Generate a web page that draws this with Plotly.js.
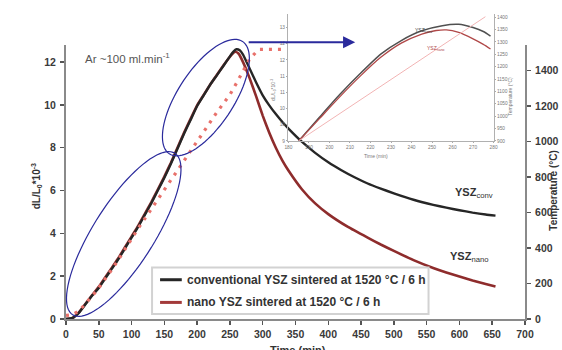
<!DOCTYPE html>
<html>
<head>
<meta charset="utf-8">
<script src="https://cdn.plot.ly/plotly-3.0.1.min.js"></script>
<style>html,body{margin:0;padding:0;background:#fff;}#chart{width:562px;height:350px;}</style>
</head>
<body>
<div id="chart"></div>
<script>
// ---------- main chart data ----------
const timeConv = [0,10,20,30,40,50,60,70,80,90,100,110,120,130,140,150,160,170,180,190,200,210,220,230,240,250,255,260,265,270,280,290,300,310,320,330,340,360,380,400,420,440,460,480,500,530,560,580,600,620,640,655];
const dlConv   = [0,0.05,0.3,0.7,1.1,1.45,1.9,2.35,2.8,3.3,3.8,4.3,4.85,5.4,6.0,6.6,7.25,7.95,8.65,9.3,9.95,10.45,10.95,11.38,11.82,12.27,12.48,12.6,12.55,12.35,11.7,11.05,10.45,9.98,9.57,9.2,8.87,8.27,7.76,7.32,6.95,6.62,6.33,6.09,5.87,5.57,5.33,5.2,5.08,4.97,4.88,4.83];

const timeNano = [0,10,20,30,40,50,60,70,80,90,100,110,120,130,140,150,160,170,180,190,200,210,220,230,240,250,255,258,263,270,280,290,300,310,320,330,340,360,380,400,430,460,480,500,530,560,580,600,620,640,655];
const dlNano   = [0,0.05,0.32,0.72,1.12,1.5,1.95,2.4,2.85,3.35,3.85,4.35,4.9,5.45,6.05,6.65,7.3,8.0,8.7,9.35,9.98,10.47,10.95,11.4,11.84,12.25,12.42,12.48,12.4,12.0,11.25,10.4,9.5,8.7,8.0,7.4,6.9,6.05,5.4,4.9,4.3,3.8,3.48,3.18,2.75,2.38,2.17,1.98,1.8,1.64,1.52];

const timeTemp = [0,10,20,30,40,50,60,70,80,90,100,110,120,130,140,150,160,170,180,190,200,210,220,230,240,250,260,270,280,290,295,300,335];
const tempC    = [20,25,45,85,130,175,225,280,335,395,455,510,565,620,675,730,785,840,895,950,1000,1055,1110,1165,1215,1265,1330,1400,1465,1505,1520,1520,1520];

const xTicks = [0,50,100,150,200,250,300,350,400,450,500,550,600,650,700];
const leftTicks = [0,2,4,6,8,10,12];
const rightTicks = [0,200,400,600,800,1000,1200,1400];

const legendNames = ['conventional YSZ sintered at 1520 °C / 6 h', 'nano YSZ sintered at 1520 °C / 6 h'];

// ---------- inset data ----------
const insetTimeConv = [185,195,205,215,225,235,245,255,263,270,275,278.5];
const insetDlConv   = [9.0,9.72,10.43,11.08,11.68,12.1,12.4,12.56,12.6,12.5,12.38,12.24];
const insetTimeNano = [185,195,205,215,225,235,245,252,257,263,270,275,278.5];
const insetDlNano   = [9.0,9.68,10.36,11.0,11.58,12.02,12.3,12.41,12.43,12.35,12.15,11.98,11.84];
const insetTimeTemp = [185,276];
const insetTemp     = [900,1402];
const insetXTicks = [180,190,200,210,220,230,240,250,260,270,280];
const insetLeftTicks = [9,9.5,10,10.5,11,11.5,12,12.5];
const insetLeftText  = ['9','10','10','11','11','12','12','13'];
const insetRightTicks = [900,950,1000,1050,1100,1150,1200,1250,1300,1350,1400];

// ---------- geometry helpers (pixel -> paper) ----------
const L = 66, W = 458.7, B = 319.3, H = 309.3;
const px2x = p => (p - L) / W;
const py2y = p => (B - p) / H;

function ellipsePath(cx, cy, a, b, deg) {
  const th = deg * Math.PI / 180, n = 90;
  let d = '';
  for (let k = 0; k <= n; k++) {
    const f = 2 * Math.PI * k / n;
    const ex = a * Math.cos(f), ey = b * Math.sin(f);
    const px = cx + ex * Math.cos(th) + ey * Math.sin(th);
    const py = cy - ex * Math.sin(th) + ey * Math.cos(th);
    d += (k === 0 ? 'M' : 'L') + px2x(px).toFixed(5) + ',' + py2y(py).toFixed(5);
  }
  return d + 'Z';
}

const FONT = 'Liberation Sans, Arial, sans-serif';
const tickFont = {family: FONT, size: 10.5, color: '#3a3a3a', weight: 'bold'};
const insetFont = {family: FONT, size: 4.8, color: '#777'};

const traces = [
  {x: timeTemp, y: tempC, xaxis: 'x', yaxis: 'y2', mode: 'lines', showlegend: false,
   line: {color: '#e8716b', width: 3.2, dash: '3px,6px'}, name: 'Temperature'},
  {x: timeNano, y: dlNano, xaxis: 'x', yaxis: 'y', mode: 'lines', showlegend: false,
   line: {color: '#8e2c2c', width: 2.6, shape: 'spline', smoothing: 0.4}, name: legendNames[1]},
  {x: timeConv, y: dlConv, xaxis: 'x', yaxis: 'y', mode: 'lines', showlegend: false,
   line: {color: '#262626', width: 2.4, shape: 'spline', smoothing: 0.4}, name: legendNames[0]},
  // inset
  {x: insetTimeTemp, y: insetTemp, xaxis: 'x2', yaxis: 'y4', mode: 'lines', showlegend: false,
   line: {color: '#f2b4b4', width: 1}},
  {x: insetTimeConv, y: insetDlConv, xaxis: 'x2', yaxis: 'y3', mode: 'lines', showlegend: false,
   line: {color: '#505050', width: 1.5, shape: 'spline', smoothing: 0.6}},
  {x: insetTimeNano, y: insetDlNano, xaxis: 'x2', yaxis: 'y3', mode: 'lines', showlegend: false,
   line: {color: '#b04848', width: 1.3, shape: 'spline', smoothing: 0.6}}
];

const axisLine = {showline: true, linecolor: '#8a8a8a', linewidth: 2, showgrid: false, zeroline: false,
  ticks: 'outside', ticklen: 4, tickwidth: 1.5, tickcolor: '#555', tickfont: tickFont};

const layout = {
  width: 562, height: 350,
  margin: {l: L, r: 562 - L - W, t: B - H, b: 350 - B, pad: 0},
  paper_bgcolor: '#fff', plot_bgcolor: 'rgba(0,0,0,0)',
  showlegend: false,
  xaxis: Object.assign({}, axisLine, {domain: [0, 1], anchor: 'y', range: [0, 700], tickvals: xTicks}),
  yaxis: Object.assign({}, axisLine, {domain: [0, (B - 45) / H], anchor: 'x', range: [0, 12.8], tickvals: leftTicks, ticklabelstandoff: 2}),
  yaxis2: Object.assign({}, axisLine, {overlaying: 'y', side: 'right', anchor: 'x', range: [0, 1545], tickvals: rightTicks, ticklabelstandoff: 2}),
  xaxis2: {domain: [px2x(288.3), px2x(493.3)], anchor: 'y3', range: [180, 280], tickvals: insetXTicks,
    showline: true, linecolor: '#b0b0b0', linewidth: 1, showgrid: false, zeroline: false,
    ticks: 'outside', ticklen: 1.5, tickcolor: '#aaa', tickfont: insetFont},
  yaxis3: {domain: [py2y(141), py2y(14)], anchor: 'x2', range: [9, 12.92], tickvals: insetLeftTicks, ticktext: insetLeftText,
    showline: true, linecolor: '#b0b0b0', linewidth: 1, showgrid: false, zeroline: false,
    ticks: 'outside', ticklen: 1.5, tickcolor: '#aaa', tickfont: insetFont},
  yaxis4: {overlaying: 'y3', side: 'right', anchor: 'x2', range: [900, 1413], tickvals: insetRightTicks,
    showline: true, linecolor: '#b0b0b0', linewidth: 1, showgrid: false, zeroline: false,
    ticks: 'outside', ticklen: 1.5, tickcolor: '#aaa', tickfont: insetFont},
  shapes: [
    {type: 'path', xref: 'paper', yref: 'paper', path: ellipsePath(123.7, 234.2, 95.6, 30.5, 57.7),
     line: {color: '#2a2a9c', width: 1.2}, fillcolor: 'rgba(0,0,0,0)', layer: 'above'},
    {type: 'path', xref: 'paper', yref: 'paper', path: ellipsePath(205.8, 97.7, 67.1, 28, 57),
     line: {color: '#2a2a9c', width: 1.2}, fillcolor: 'rgba(0,0,0,0)', layer: 'above'},
    // legend box and keys
    {type: 'rect', xref: 'paper', yref: 'paper', x0: px2x(152), x1: px2x(428.3), y0: py2y(314.3), y1: py2y(267.7),
     fillcolor: '#ffffff', line: {color: '#d2d2d2', width: 2}, layer: 'above'},
    {type: 'line', xref: 'paper', yref: 'paper', x0: px2x(160), x1: px2x(181.7), y0: py2y(280), y1: py2y(280),
     line: {color: '#262626', width: 3}, layer: 'above'},
    {type: 'line', xref: 'paper', yref: 'paper', x0: px2x(160), x1: px2x(181.7), y0: py2y(302.7), y1: py2y(302.7),
     line: {color: '#a33a3a', width: 3}, layer: 'above'}
  ],
  annotations: [
    {xref: 'paper', yref: 'paper', x: px2x(185), y: py2y(280), xanchor: 'left', yanchor: 'middle', showarrow: false,
     text: legendNames[0], font: {family: FONT, size: 12, color: '#333', weight: 'bold'}},
    {xref: 'paper', yref: 'paper', x: px2x(185), y: py2y(302.7), xanchor: 'left', yanchor: 'middle', showarrow: false,
     text: legendNames[1], font: {family: FONT, size: 12, color: '#333', weight: 'bold'}},
    {xref: 'paper', yref: 'paper', x: px2x(83), y: py2y(58), xanchor: 'left', yanchor: 'middle', showarrow: false,
     text: 'Ar ~100 ml.min<sup>-1</sup>', font: {family: FONT, size: 11.5, color: '#555'}},
    {xref: 'paper', yref: 'paper', x: px2x(453), y: py2y(193), xanchor: 'left', yanchor: 'middle', showarrow: false,
     text: '<b>YSZ</b><sub>conv</sub>', font: {family: FONT, size: 11, color: '#333'}},
    {xref: 'paper', yref: 'paper', x: px2x(448), y: py2y(257), xanchor: 'left', yanchor: 'middle', showarrow: false,
     text: '<b>YSZ</b><sub>nano</sub>', font: {family: FONT, size: 11, color: '#333'}},
    // axis titles
    {xref: 'paper', yref: 'paper', x: px2x(28), y: py2y(186), textangle: -90, showarrow: false,
     text: 'dL/L<sub>0</sub>*10<sup>-3</sup>', font: {family: FONT, size: 10, color: '#333', weight: 'bold'}},
    {xref: 'paper', yref: 'paper', x: px2x(561), y: py2y(190), textangle: -90, showarrow: false,
     text: 'Temperature (°C)', font: {family: FONT, size: 10, color: '#333', weight: 'bold'}},
    {xref: 'paper', yref: 'paper', x: px2x(298), y: py2y(342), xanchor: 'center', yanchor: 'top', showarrow: false,
     text: 'Time (min)', font: {family: FONT, size: 11, color: '#333', weight: 'bold'}},
    // inset labels
    {xref: 'paper', yref: 'paper', x: px2x(390), y: py2y(156.5), showarrow: false,
     text: 'Time (min)', font: {family: FONT, size: 5, color: '#777'}},
    {xref: 'paper', yref: 'paper', x: px2x(274), y: py2y(77), textangle: -90, showarrow: false,
     text: 'dL/L<sub>0</sub>*10<sup>-3</sup>', font: {family: FONT, size: 5, color: '#777'}},
    {xref: 'paper', yref: 'paper', x: px2x(515), y: py2y(75), textangle: -90, showarrow: false,
     text: 'Temperature (°C)', font: {family: FONT, size: 5, color: '#777'}},
    {xref: 'paper', yref: 'paper', x: px2x(413), y: py2y(25.5), xanchor: 'left', showarrow: false,
     text: 'YSZ<sub>conv</sub>', font: {family: FONT, size: 5, color: '#444'}},
    {xref: 'paper', yref: 'paper', x: px2x(425), y: py2y(43), xanchor: 'left', showarrow: false,
     text: 'YSZ<sub>nano</sub>', font: {family: FONT, size: 5, color: '#b04848'}},
    // blue arrow
    {xref: 'paper', yref: 'paper', x: px2x(355), y: py2y(42.3), ax: -108, ay: 0, text: '', showarrow: true,
     arrowhead: 2, arrowsize: 1.1, arrowwidth: 2.2, arrowcolor: '#2a2a9c', standoff: 0}
  ]
};

Plotly.newPlot('chart', traces, layout, {staticPlot: true, displayModeBar: false});
</script>
</body>
</html>
